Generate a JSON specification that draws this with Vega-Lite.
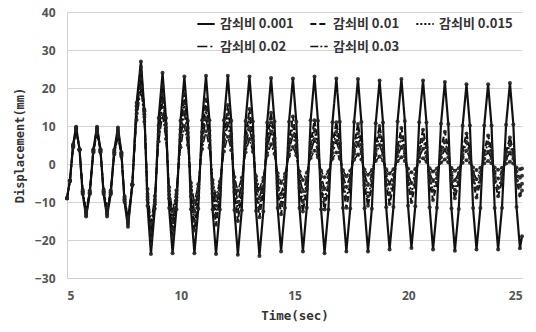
{
  "$schema": "https://vega.github.io/schema/vega-lite/v6.json",
  "width": 455,
  "height": 266,
  "autosize": {"type": "none"},
  "padding": {"left": 67, "top": 12, "right": 14, "bottom": 54},
  "background": "white",
  "config": {"view": {"stroke": null}, "font": "Liberation Sans"},
  "data": {"values": [
    {"t":5.00,"a":-9,"b":-9,"c":-9,"d":-9,"e":-9},
    {"t":5.13,"a":-4.3,"b":-4.35,"c":-4.4,"d":-4.45,"e":-4.55},
    {"t":5.27,"a":5.1,"b":4.95,"c":4.8,"d":4.65,"e":4.35},
    {"t":5.40,"a":9.8,"b":9.6,"c":9.4,"d":9.2,"e":8.8},
    {"t":5.55,"a":3.9,"b":3.85,"c":3.8,"d":3.75,"e":3.6},
    {"t":5.69,"a":-7.9,"b":-7.65,"c":-7.4,"d":-7.15,"e":-6.8},
    {"t":5.84,"a":-13.8,"b":-13.4,"c":-13,"d":-12.6,"e":-12},
    {"t":6.00,"a":-7.9,"b":-7.7,"c":-7.5,"d":-7.3,"e":-7},
    {"t":6.16,"a":3.9,"b":3.7,"c":3.5,"d":3.3,"e":3},
    {"t":6.32,"a":9.8,"b":9.4,"c":9,"d":8.6,"e":8},
    {"t":6.47,"a":3.9,"b":3.75,"c":3.55,"d":3.35,"e":3.1},
    {"t":6.61,"a":-7.9,"b":-7.55,"c":-7.35,"d":-7.15,"e":-6.7},
    {"t":6.76,"a":-13.8,"b":-13.2,"c":-12.8,"d":-12.4,"e":-11.6},
    {"t":6.92,"a":-7.95,"b":-7.65,"c":-7.5,"d":-7.3,"e":-6.9},
    {"t":7.08,"a":3.75,"b":3.45,"c":3.1,"d":2.9,"e":2.5},
    {"t":7.24,"a":9.6,"b":9,"c":8.4,"d":8,"e":7.2},
    {"t":7.39,"a":3.08,"b":2.8,"c":2.5,"d":2.35,"e":1.95},
    {"t":7.53,"a":-9.98,"b":-9.6,"c":-9.3,"d":-8.95,"e":-8.55},
    {"t":7.68,"a":-16.5,"b":-15.8,"c":-15.2,"d":-14.6,"e":-13.8},
    {"t":7.87,"a":-5.63,"b":-5.48,"c":-5.4,"d":-5.33,"e":-5.35},
    {"t":8.06,"a":16.1,"b":15.2,"c":14.2,"d":13.2,"e":11.55},
    {"t":8.25,"a":27,"b":25.5,"c":24,"d":22.5,"e":20},
    {"t":8.40,"a":14.3,"b":13.9,"c":13.1,"d":12.4,"e":11.1},
    {"t":8.54,"a":-11,"b":-9.4,"c":-8.6,"d":-7.9,"e":-6.6},
    {"t":8.69,"a":-23.7,"b":-21,"c":-19.5,"d":-18,"e":-15.5},
    {"t":8.86,"a":-11.8,"b":-10.6,"c":-10,"d":-9.4,"e":-8.4},
    {"t":9.03,"a":12.1,"b":10.1,"c":9,"d":7.9,"e":5.9},
    {"t":9.20,"a":24,"b":20.5,"c":18.5,"d":16.5,"e":13},
    {"t":9.35,"a":12.1,"b":10.6,"c":9.6,"d":8.6,"e":6.6},
    {"t":9.49,"a":-11.6,"b":-9.1,"c":-8.1,"d":-7.1,"e":-6.1},
    {"t":9.64,"a":-23.5,"b":-19,"c":-17,"d":-15,"e":-12.5},
    {"t":9.81,"a":-11.9,"b":-9.6,"c":-8.75,"d":-7.9,"e":-6.9},
    {"t":9.99,"a":11.4,"b":9.1,"c":7.75,"d":6.4,"e":4.4},
    {"t":10.16,"a":23,"b":18.5,"c":16,"d":13.5,"e":10},
    {"t":10.31,"a":11.4,"b":9.5,"c":8.25,"d":7,"e":5},
    {"t":10.45,"a":-11.9,"b":-8.5,"c":-7.25,"d":-6,"e":-5},
    {"t":10.60,"a":-23.5,"b":-17.5,"c":-15,"d":-12.5,"e":-10},
    {"t":10.77,"a":-11.8,"b":-8.9,"c":-7.6,"d":-6.4,"e":-5.35},
    {"t":10.94,"a":11.5,"b":8.4,"c":7.1,"d":5.9,"e":3.95},
    {"t":11.11,"a":23.2,"b":17,"c":14.5,"d":12,"e":8.6},
    {"t":11.26,"a":11.5,"b":8.75,"c":7.5,"d":6.25,"e":4.3},
    {"t":11.40,"a":-12,"b":-7.75,"c":-6.5,"d":-5.25,"e":-4.2},
    {"t":11.55,"a":-23.7,"b":-16,"c":-13.5,"d":-11,"e":-8.5},
    {"t":11.72,"a":-12,"b":-8.1,"c":-6.9,"d":-5.6,"e":-4.6},
    {"t":11.90,"a":11.5,"b":7.6,"c":6.4,"d":5.1,"e":3.3},
    {"t":12.07,"a":23.2,"b":15.5,"c":13,"d":10.5,"e":7.2},
    {"t":12.22,"a":11.4,"b":7.9,"c":6.6,"d":5.4,"e":3.65},
    {"t":12.36,"a":-12.1,"b":-7.4,"c":-6.1,"d":-4.9,"e":-3.45},
    {"t":12.51,"a":-23.9,"b":-15,"c":-12.5,"d":-10,"e":-7},
    {"t":12.68,"a":-12.2,"b":-7.6,"c":-6.4,"d":-5.1,"e":-3.6},
    {"t":12.85,"a":11.3,"b":7.1,"c":5.9,"d":4.6,"e":3.1},
    {"t":13.02,"a":23,"b":14.5,"c":12,"d":9.5,"e":6.5},
    {"t":13.17,"a":11.2,"b":7.4,"c":6.1,"d":4.9,"e":3.25},
    {"t":13.31,"a":-12.4,"b":-6.9,"c":-5.6,"d":-4.4,"e":-3.25},
    {"t":13.46,"a":-24.2,"b":-14,"c":-11.5,"d":-9,"e":-6.5},
    {"t":13.63,"a":-12.5,"b":-7.1,"c":-5.9,"d":-4.6,"e":-3.6},
    {"t":13.80,"a":10.9,"b":6.6,"c":5.4,"d":4.1,"e":2.3},
    {"t":13.97,"a":22.6,"b":13.5,"c":11,"d":8.5,"e":5.2},
    {"t":14.12,"a":11.2,"b":6.8,"c":5.6,"d":4.4,"e":2.65},
    {"t":14.26,"a":-11.6,"b":-6.5,"c":-5.1,"d":-3.9,"e":-2.45},
    {"t":14.41,"a":-23,"b":-13.2,"c":-10.5,"d":-8,"e":-5},
    {"t":14.58,"a":-11.6,"b":-6.8,"c":-5.4,"d":-4.1,"e":-2.6},
    {"t":14.76,"a":11.1,"b":6.1,"c":4.9,"d":3.6,"e":2.1},
    {"t":14.93,"a":22.5,"b":12.5,"c":10,"d":7.5,"e":4.5},
    {"t":15.08,"a":11.1,"b":6.25,"c":5,"d":3.8,"e":2.3},
    {"t":15.22,"a":-11.6,"b":-6.25,"c":-5,"d":-3.5,"e":-2},
    {"t":15.37,"a":-23,"b":-12.5,"c":-10,"d":-7.2,"e":-4.2},
    {"t":15.54,"a":-11.5,"b":-6.5,"c":-5.25,"d":-3.8,"e":-2.3},
    {"t":15.71,"a":11.5,"b":5.5,"c":4.25,"d":3.1,"e":1.6},
    {"t":15.88,"a":23,"b":11.5,"c":9,"d":6.5,"e":3.5},
    {"t":16.03,"a":11.4,"b":5.6,"c":4.4,"d":3.25,"e":1.75},
    {"t":16.17,"a":-11.9,"b":-6.1,"c":-4.9,"d":-3.25,"e":-1.75},
    {"t":16.32,"a":-23.5,"b":-12,"c":-9.5,"d":-6.5,"e":-3.5},
    {"t":16.49,"a":-12,"b":-6.25,"c":-5,"d":-3.4,"e":-1.9},
    {"t":16.67,"a":11,"b":5.25,"c":4,"d":2.9,"e":1.4},
    {"t":16.84,"a":22.5,"b":11,"c":8.5,"d":6,"e":3},
    {"t":16.99,"a":11.1,"b":5.4,"c":4.1,"d":3,"e":1.45},
    {"t":17.13,"a":-11.6,"b":-5.9,"c":-4.6,"d":-3,"e":-1.65},
    {"t":17.28,"a":-23,"b":-11.5,"c":-9,"d":-6,"e":-3.2},
    {"t":17.45,"a":-11.7,"b":-6,"c":-4.75,"d":-3.1,"e":-1.8},
    {"t":17.62,"a":11.05,"b":5,"c":3.75,"d":2.6,"e":1.1},
    {"t":17.79,"a":22.4,"b":10.5,"c":8,"d":5.5,"e":2.5},
    {"t":17.94,"a":11.05,"b":5.1,"c":3.9,"d":2.75,"e":1.2},
    {"t":18.08,"a":-11.65,"b":-5.6,"c":-4.4,"d":-2.75,"e":-1.5},
    {"t":18.23,"a":-23,"b":-11,"c":-8.5,"d":-5.5,"e":-2.8},
    {"t":18.40,"a":-11.75,"b":-5.75,"c":-4.5,"d":-2.9,"e":-1.6},
    {"t":18.57,"a":10.75,"b":4.75,"c":3.5,"d":2.4,"e":0.8},
    {"t":18.74,"a":22,"b":10,"c":7.5,"d":5,"e":2},
    {"t":18.89,"a":10.9,"b":4.9,"c":3.6,"d":2.45,"e":0.9},
    {"t":19.03,"a":-11.4,"b":-5.4,"c":-4.1,"d":-2.65,"e":-1.4},
    {"t":19.18,"a":-22.5,"b":-10.5,"c":-8,"d":-5.2,"e":-2.5},
    {"t":19.35,"a":-11.3,"b":-5.5,"c":-4.25,"d":-2.8,"e":-1.4},
    {"t":19.53,"a":11.2,"b":4.5,"c":3.25,"d":2.1,"e":0.7},
    {"t":19.70,"a":22.4,"b":9.5,"c":7,"d":4.5,"e":1.8},
    {"t":19.85,"a":11.3,"b":4.6,"c":3.4,"d":2.1,"e":0.8},
    {"t":19.99,"a":-11,"b":-5.1,"c":-3.9,"d":-2.6,"e":-1.2},
    {"t":20.14,"a":-22.1,"b":-10,"c":-7.5,"d":-5,"e":-2.2},
    {"t":20.31,"a":-11.1,"b":-5.25,"c":-4,"d":-2.75,"e":-1.3},
    {"t":20.48,"a":11,"b":4.25,"c":3,"d":1.75,"e":0.6},
    {"t":20.65,"a":22,"b":9,"c":6.5,"d":4,"e":1.5},
    {"t":20.80,"a":10.9,"b":4.4,"c":3.1,"d":1.9,"e":0.6},
    {"t":20.94,"a":-11.4,"b":-4.9,"c":-3.6,"d":-2.4,"e":-1.1},
    {"t":21.09,"a":-22.5,"b":-9.5,"c":-7,"d":-4.5,"e":-2},
    {"t":21.26,"a":-11.5,"b":-5,"c":-3.75,"d":-2.4,"e":-1.2},
    {"t":21.44,"a":10.6,"b":4,"c":2.75,"d":1.7,"e":0.4},
    {"t":21.61,"a":21.6,"b":8.5,"c":6,"d":3.8,"e":1.2},
    {"t":21.76,"a":10.5,"b":4.1,"c":2.8,"d":1.8,"e":0.45},
    {"t":21.90,"a":-11.7,"b":-4.6,"c":-3.6,"d":-2.3,"e":-1.05},
    {"t":22.05,"a":-22.8,"b":-9,"c":-6.8,"d":-4.3,"e":-1.8},
    {"t":22.22,"a":-11.85,"b":-4.75,"c":-3.65,"d":-2.35,"e":-1.1},
    {"t":22.39,"a":10.05,"b":3.75,"c":2.65,"d":1.55,"e":0.3},
    {"t":22.56,"a":21,"b":8,"c":5.8,"d":3.5,"e":1},
    {"t":22.71,"a":10.1,"b":3.8,"c":2.7,"d":1.6,"e":0.35},
    {"t":22.85,"a":-11.6,"b":-4.6,"c":-3.4,"d":-2.1,"e":-0.95},
    {"t":23.00,"a":-22.5,"b":-8.8,"c":-6.5,"d":-4,"e":-1.6},
    {"t":23.17,"a":-11.6,"b":-4.7,"c":-3.5,"d":-2.2,"e":-1},
    {"t":23.34,"a":10.1,"b":3.4,"c":2.5,"d":1.4,"e":0.2},
    {"t":23.51,"a":21,"b":7.5,"c":5.5,"d":3.2,"e":0.8},
    {"t":23.66,"a":10.1,"b":3.5,"c":2.55,"d":1.45,"e":0.2},
    {"t":23.80,"a":-11.6,"b":-4.5,"c":-3.35,"d":-2.05,"e":-0.9},
    {"t":23.95,"a":-22.5,"b":-8.5,"c":-6.3,"d":-3.8,"e":-1.5},
    {"t":24.12,"a":-11.55,"b":-4.6,"c":-3.5,"d":-2.1,"e":-1},
    {"t":24.30,"a":10.35,"b":3.1,"c":2.2,"d":1.3,"e":0.1},
    {"t":24.47,"a":21.3,"b":7,"c":5,"d":3,"e":0.6},
    {"t":24.62,"a":10.4,"b":3.2,"c":2.25,"d":1.35,"e":0.1},
    {"t":24.76,"a":-11.3,"b":-4.4,"c":-3.25,"d":-1.95,"e":-0.9},
    {"t":24.91,"a":-22.2,"b":-8.2,"c":-6,"d":-3.6,"e":-1.4},
    {"t":25.00,"a":-19,"b":-7,"c":-5.2,"d":-3.1,"e":-1.2}
  ]},
  "transform": [{"fold": ["a", "b", "c", "d", "e"], "as": ["k", "v"]}],
  "encoding": {
    "x": {
      "field": "t", "type": "quantitative",
      "scale": {"domain": [5, 25], "nice": false, "zero": false},
      "axis": {
        "values": [5, 10, 15, 20, 25], "grid": false, "ticks": false,
        "domain": true, "domainColor": "#d0d0d0",
        "labelFont": "Open Sans", "labelFontWeight": "bold", "labelFontSize": 12, "labelColor": "#555",
        "labelPadding": 12,
        "title": "Time(sec)", "titleFont": "DejaVu Sans Mono", "titleFontWeight": "bold",
        "titleFontSize": 12.5, "titleColor": "#333", "titlePadding": 8
      }
    },
    "y": {
      "field": "v", "type": "quantitative",
      "scale": {"domain": [-30, 40], "nice": false, "zero": false},
      "axis": {
        "values": [-30, -20, -10, 0, 10, 20, 30, 40], "grid": true, "gridColor": "#d4d4d4",
        "ticks": false, "domain": true, "domainColor": "#d0d0d0",
        "labelFont": "Open Sans", "labelFontWeight": "bold", "labelFontSize": 12, "labelColor": "#555",
        "labelPadding": 12,
        "title": "Displacement(mm)", "titleFont": "DejaVu Sans Mono", "titleFontWeight": "bold",
        "titleFontSize": 12, "titleColor": "#333", "titlePadding": 8
      }
    }
  },
  "layer": [
    {
      "mark": {"type": "line", "color": "#111"},
      "encoding": {
        "strokeDash": {
          "field": "k", "type": "nominal",
          "scale": {"domain": ["a", "b", "c", "d", "e"], "range": [[1, 0], [6, 3], [2, 2], [10, 3, 2, 3], [8, 2, 2, 2]]},
          "legend": {
            "orient": "none", "legendX": 129, "legendY": 2, "columns": 3, "direction": "horizontal",
            "title": null, "padding": 0, "symbolType": "stroke", "symbolStrokeColor": "#111",
            "symbolStrokeWidth": 1.5, "symbolSize": 300,
            "labelFont": "Noto Sans CJK KR", "labelFontSize": 13, "labelFontWeight": "bold", "labelColor": "#333",
            "labelOffset": 4, "columnPadding": 12, "rowPadding": 6,
            "labelExpr": "datum.label=='a'?'감쇠비 0.001':datum.label=='b'?'감쇠비 0.01':datum.label=='c'?'감쇠비 0.015':datum.label=='d'?'감쇠비 0.02':'감쇠비 0.03'"
          }
        },
        "strokeWidth": {
          "field": "k", "type": "nominal",
          "scale": {"domain": ["a", "b", "c", "d", "e"], "range": [2.2, 1.5, 1.5, 1.5, 2.6]},
          "legend": null
        }
      }
    },
    {
      "mark": {"type": "point", "filled": true, "size": 16, "color": "#222", "opacity": 0.9},
      "encoding": {"detail": {"field": "k", "type": "nominal"}}
    }
  ]
}
